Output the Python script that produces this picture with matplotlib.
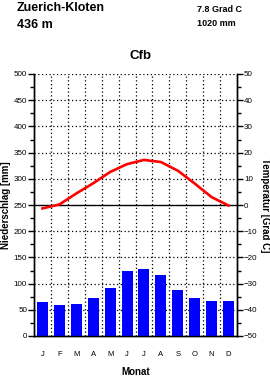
import numpy as np
import matplotlib
matplotlib.use("Agg")
import matplotlib.pyplot as plt
from matplotlib.ticker import MultipleLocator

plt.rcParams['font.family'] = ['Liberation Sans', 'DejaVu Sans']

# ========== DATA ========== #
station = "Zuerich-Kloten"
altitude = "436 m"
mean_temp = "7.8 Grad C"
total_precip = "1020 mm"
climate = "Cfb"
months = ["J", "F", "M", "A", "M", "J", "J", "A", "S", "O", "N", "D"]
precip = [65, 60, 62, 73, 92, 124, 128, 117, 88, 73, 67, 67]
temp = [-1.3, 0.2, 4.4, 8.3, 12.6, 15.6, 17.2, 16.4, 13.1, 8.2, 3.0, -0.2]

# ========== FIGURE ========== #
fig = plt.figure(figsize=(2.7, 3.78), dpi=100)
ax = fig.add_axes([34 / 270, 42 / 378, 203 / 270, 262 / 378])
ax2 = ax.twinx()

x = np.arange(len(months)) + 0.5
ax.bar(x, precip, width=0.65, color='#0000ff', zorder=3)

ax.set_xlim(0, 12)
ax.set_ylim(0, 500)
ax2.set_ylim(-50, 50)

# grid
dot = (0, (1, 2))
for gx in range(1, 12):
    ax.axvline(gx, color='black', lw=0.9, ls=dot, zorder=1)
for gy in range(50, 501, 50):
    if gy != 250:
        ax.axhline(gy, color='black', lw=0.9, ls=dot, zorder=1)
ax.axhline(250, color='black', lw=1.0, zorder=2)

ax2.plot(x, temp, color='#ff0000', lw=1.9, zorder=4)

for a in (ax, ax2):
    a.spines['top'].set_visible(False)
    for s in ('left', 'right', 'bottom'):
        a.spines[s].set_linewidth(1.0)

ax.yaxis.set_major_locator(MultipleLocator(50))
ax.yaxis.set_minor_locator(MultipleLocator(25))
ax2.yaxis.set_major_locator(MultipleLocator(10))
ax2.yaxis.set_minor_locator(MultipleLocator(5))
ax.tick_params(axis='y', which='major', length=4, width=1, labelsize=5.8, pad=1)
ax.tick_params(axis='y', which='minor', length=3, width=1)
ax2.tick_params(axis='y', which='major', length=4, width=1, labelsize=5.8, pad=1)
ax2.tick_params(axis='y', which='minor', length=3, width=1)
ax.set_xticks(x)
ax.set_xticklabels(months)
ax.tick_params(axis='x', length=0, labelsize=5.5, pad=11)

ax.set_ylabel("Niederschlag [mm]", fontsize=7, fontweight='bold', labelpad=2)
ax2.set_ylabel("Temperatur [Grad C]", fontsize=7, fontweight='bold',
               rotation=270, labelpad=9)
ax.set_xlabel("Monat", fontsize=7, fontweight='bold', labelpad=6)

# header texts
fig.text(17 / 270, 1 - 8 / 378, station, fontsize=9, fontweight='bold', va='center')
fig.text(17 / 270, 1 - 24.5 / 378, altitude, fontsize=9, fontweight='bold', va='center')
fig.text(197 / 270, 1 - 10 / 378, mean_temp, fontsize=6.5, fontweight='bold', va='center')
fig.text(197 / 270, 1 - 24 / 378, total_precip, fontsize=6.5, fontweight='bold', va='center')
fig.text(140 / 270, 1 - 56 / 378, climate, fontsize=9.5, fontweight='semibold',
         ha='center', va='center')

fig.savefig("out.png", dpi=100)
